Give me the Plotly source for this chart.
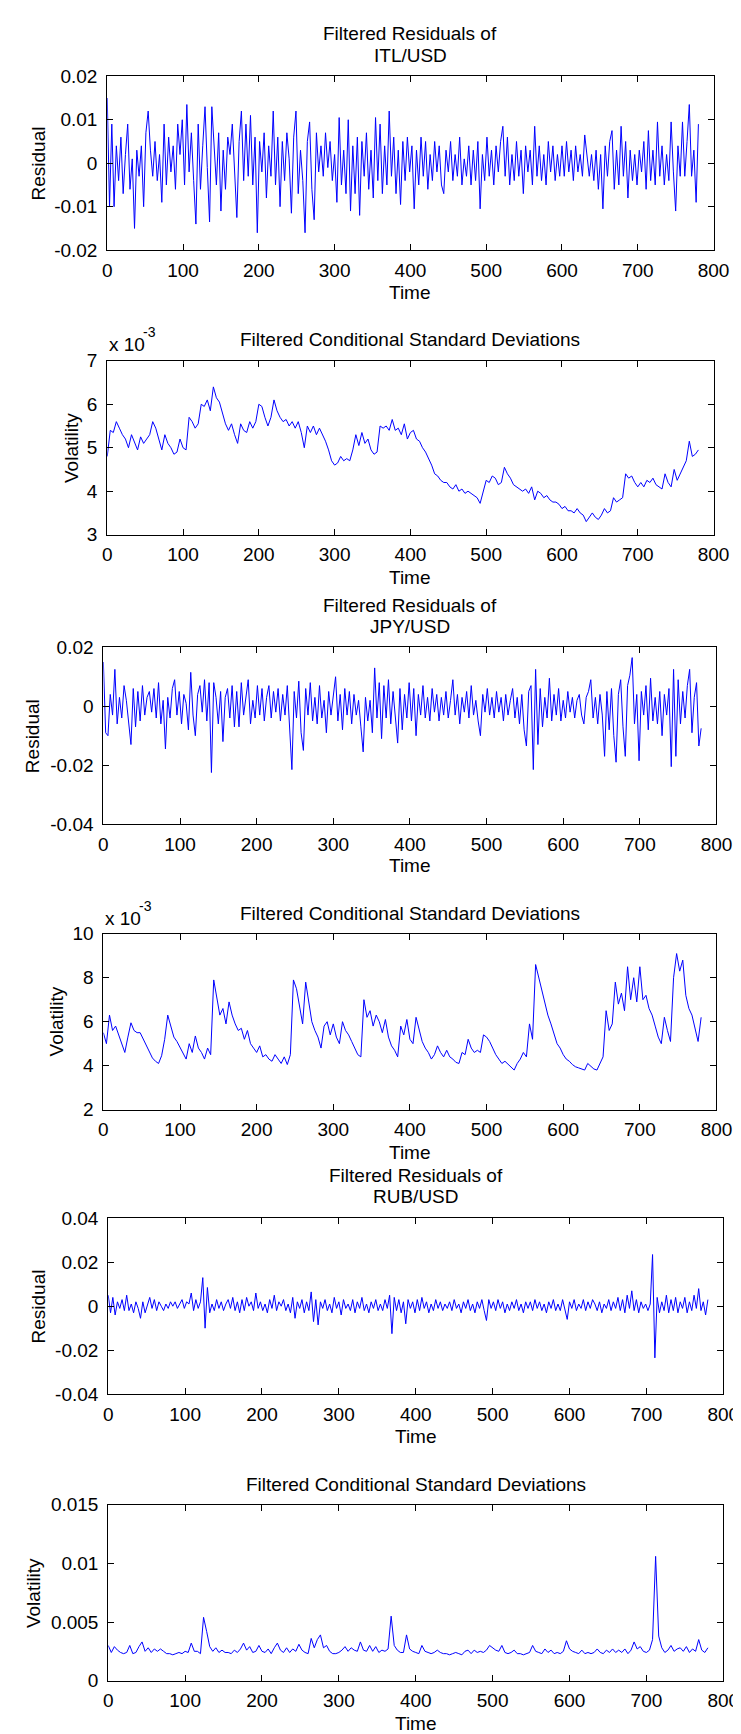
import plotly.graph_objects as go

W, H = 741, 1734

# ---------------- data ----------------
time_res = list(range(0, 781, 3))   # residual series sampled every 3 steps
time_vol = list(range(0, 781, 4))   # volatility series sampled every 4 steps

# ITL/USD filtered residuals (units of 1e-3)
itl_res = [15, -10, 9, -10, 4, -4, 6, -7, 2, 9, -6, 1, -15, 3, -3, 4, -10, 7, 12, 3,
           -3, 5, -4, 2, -9, 9, -5, 6, -2, 4, -6, 9, 2, 10, -5, 13.5, -2, 7, -4, -14,
           9, -6, 4, 13, -1, -13.5, 13, 3, -5, 7, -11, 3, -6, 6, 2, 9, -3, -12.5, 5, 12,
           -4, 9, -3, 11, -5, 6, -16, 5, -2, 7, -8, 4, -3, 12, -5, 6, -10, 5, -4, 7,
           1, -11.5, 6, 12, -7, 3, -4, -16, 5, 9.5, -6, -13, 7, -2, 4, -3, 7, -1, 5, -4,
           2, -9, 10.5, -5, 3, -7, 10, -11, 4, -7, 6, -12, 5, -3, 7, -6, 3, -8, 10.5, -4,
           9, -7, 4, -5, 12, -3, 6, -7, 3, -9.5, 5, -4, 6, -2, 4, -10.5, 3, -5, 6, -3,
           5, -6, 2, -4, 5, -2, 4, -5, -7, 3, -2, 5, -4, 2, -3, 6, -5, 1, -3, 4,
           -5, 3, -4, 5, -10.5, 2, -4, 6, -3, 3, -5, 4, -2, 5, 8.5, -3, 6, -5, 2, -4,
           5, -3, 3, -7, 4, -2, 3, -5, 8.5, -3, 4, -4, 2, -5, 5, -2, 4, -4, 2, -3,
           4, -3, 5, -2, 3, -4, 4, -2, 2, -3, 6.5, 2, -3, 2, -4, 3, -6, 2, -10.5, 4,
           -3, 5, 7.5, -6, 3, -5, 8.5, -3, 5, -8, 3, -4, 2, -5, 3, -2, 5, -6, 7.5, -4,
           3, -5, 9.5, -3, 4, -5, 2, -4, 9.5, -2, -11, 4, -3, 9.5, -3, 5, 13.5, -3, 3, -9,
           9]

# ITL/USD conditional standard deviations (units of 1e-3)
itl_vol = [4.8, 5.4, 5.35, 5.6, 5.45, 5.3, 5.2, 5.0, 5.3, 5.1, 4.95, 5.25, 5.1, 5.2, 5.3, 5.6,
           5.45, 5.2, 4.95, 5.3, 5.1, 5.0, 4.85, 4.9, 5.2, 5.0, 4.95, 5.7, 5.6, 5.45, 5.55, 6.0,
           5.95, 6.1, 5.85, 6.4, 6.15, 6.05, 5.8, 5.55, 5.4, 5.55, 5.3, 5.1, 5.55, 5.4, 5.35, 5.6,
           5.45, 5.6, 6.0, 5.95, 5.7, 5.5, 5.7, 6.1, 5.85, 5.7, 5.6, 5.65, 5.5, 5.6, 5.45, 5.6,
           5.35, 5.0, 5.5, 5.35, 5.5, 5.3, 5.45, 5.3, 5.15, 4.95, 4.7, 4.6, 4.65, 4.8, 4.7, 4.75,
           4.7, 4.95, 5.3, 5.05, 5.35, 5.1, 5.2, 4.95, 4.85, 4.9, 5.5, 5.45, 5.5, 5.4, 5.65, 5.4,
           5.45, 5.3, 5.55, 5.2, 5.35, 5.4, 5.2, 5.15, 5.0, 4.9, 4.75, 4.6, 4.4, 4.35, 4.25, 4.2,
           4.2, 4.1, 4.05, 4.15, 4.0, 4.05, 3.95, 4.0, 3.95, 3.9, 3.85, 3.72, 4.0, 4.25, 4.2, 4.35,
           4.3, 4.15, 4.2, 4.55, 4.4, 4.3, 4.15, 4.1, 4.05, 4.0, 4.05, 3.95, 4.1, 3.8, 4.0, 3.95,
           3.85, 3.9, 3.8, 3.75, 3.75, 3.7, 3.6, 3.65, 3.55, 3.55, 3.5, 3.6, 3.5, 3.45, 3.3, 3.4,
           3.5, 3.4, 3.35, 3.45, 3.6, 3.5, 3.55, 3.85, 3.75, 3.8, 3.85, 4.4, 4.3, 4.35, 4.2, 4.1,
           4.2, 4.1, 4.25, 4.2, 4.3, 4.15, 4.1, 4.05, 4.4, 4.2, 4.1, 4.5, 4.25, 4.4, 4.55, 4.7,
           5.15, 4.8, 4.85, 4.95]

# JPY/USD filtered residuals (units of 1e-3)
jpy_res = [15, -9, -10, 4, -3, 12.5, -6, 3, -4, 7, 2, -5, -13, 6, -7, 5, -5, 7, -3, 3,
           5, -2, 6, -4, 8, -6, 2, -14.5, 3, -4, 6, 9, -3, 5, -6, 4, 1, -8, 11.5, -3,
           -10, 4, 7, -2, 9, -5, 8, -22.5, 8, 3, -6, 5, -12, 3, 6, -4, 7, -7, 5, -7,
           8, -3, 4, 9, -6, 2, -4, 7, -3, 6, -5, 3, 7, -4, 5, -2, 6, -5, 4, -3,
           7, -6, -21.5, 5, -4, 8.5, -9, -15, 6, -3, 8, -5, 3, -6, 7, -4, 2, -9, 5, -3,
           3, 10, -5, 4, -8, 6, -3, 5, -6, 4, -3, 2, -7, -15.5, 3, -5, 2, -9, 13, -4,
           8, -11, 7, -4, 9, -6, 5, -3, -12.5, 6, -8, 4, -4, 8, -5, 6, -10, 4, -3, 7,
           -4, 3, -5, 6, -2, 4, -5, 3, -3, 5, -4, 2, 9, -3, 4, -6, 3, -2, 5, -4,
           7, -3, 2, -5, -10, 4, -2, 6, -3, 3, -4, 5, -2, 3, -5, 4, -3, 2, 6, -4,
           3, -6, 4, -8, -13.5, 5, 7, -21.5, 12.5, -13, 6, -7, 3, -4, 9.5, -5, 4, -3, 6, -5,
           2, -4, 5, -2, 3, -4, 2, 4, -3, -6, 3, 5, 9, -4, 3, -6, 4, -3, -17, 5,
           -8, 6, -10, -19, 4, 9, -7, -17, 7, 10.5, 16.5, -6, 4, -18.5, 5, -3, 7, -8, 9.5, -5,
           3, -6, 5, -10, 4, -3, 6, -20.5, 12.5, -17, 9, -6, 5, -4, 7, 12.5, -9, 3, 8, -13.5,
           -7.5]

# JPY/USD conditional standard deviations (units of 1e-3)
jpy_vol = [5.5, 5.0, 6.3, 5.6, 5.8, 5.4, 5.0, 4.6, 5.3, 5.95, 5.6, 5.5, 5.5, 5.2, 4.9, 4.6,
           4.35, 4.2, 4.1, 4.45, 5.2, 6.3, 5.8, 5.3, 5.1, 4.85, 4.6, 4.3, 5.0, 4.6, 5.35, 4.8,
           4.6, 4.3, 4.8, 4.5, 7.9, 7.0, 6.3, 6.6, 5.9, 6.9, 6.3, 5.9, 5.6, 5.7, 5.2, 5.6,
           5.0, 4.8, 4.6, 4.9, 4.4, 4.5, 4.3, 4.2, 4.5, 4.3, 4.1, 4.4, 4.05, 4.5, 7.9, 7.5,
           6.6, 5.9, 7.8, 6.8, 6.0, 5.6, 5.3, 4.8, 5.8, 6.0, 5.4, 5.9, 5.3, 5.0, 6.0, 5.6,
           5.4, 5.1, 4.8, 4.5, 4.4, 7.0, 6.2, 6.5, 5.8, 6.3, 6.0, 5.5, 6.1, 5.3, 4.9, 4.7,
           4.4, 5.8, 5.4, 6.1, 5.2, 5.0, 6.2, 5.6, 5.1, 4.8, 4.6, 4.3, 4.5, 4.9, 4.6, 4.4,
           4.7, 4.4, 4.3, 4.15, 4.1, 4.6, 4.5, 5.2, 4.8, 4.6, 4.7, 4.6, 5.4, 5.3, 5.1, 4.8,
           4.5, 4.3, 4.1, 4.2, 4.05, 3.9, 3.8, 4.1, 4.3, 4.6, 4.4, 5.9, 5.2, 8.6, 8.0, 7.4,
           6.8, 6.3, 5.9, 5.4, 5.0, 4.8, 4.5, 4.3, 4.2, 4.05, 3.95, 3.9, 3.85, 3.8, 4.1, 3.95,
           3.85, 3.8, 4.1, 4.4, 6.5, 5.6, 5.9, 7.8, 6.8, 7.3, 6.5, 8.5, 7.0, 8.0, 6.9, 8.5,
           7.0, 7.2, 6.6, 6.3, 5.8, 5.3, 5.0, 6.2, 5.6, 5.1, 8.0, 9.1, 8.3, 8.8, 7.2, 6.6,
           6.3, 5.7, 5.1, 6.2]

# RUB/USD filtered residuals (units of 1e-3)
rub_res = [5, -3, 4, -4, 2, -1, 3, -2, 5, -2, 1, -3, 2, -1, -5.5, 2, -3, 1, 4, -1,
           3, -2, 2, 0, -2, 1, -1, 2, 0, 2, -1, 1, 3, -1, 2, 1, 6, -2, 3, -1,
           2, 13, -10, 8.5, -3, 1, -2, 3, -1, 2, -2, 1, 3, -1, 4, -2, 2, -3, 3, -2,
           4, 0, 2, -2, 6, -1, 2, -2, 1, -3, 3, -1, 5, -2, 2, 0, 3, -2, 1, -3,
           4, -5.5, 2, -1, 3, -3, 2, -2, 6.5, -7, 3, -8.5, 2, -1, 3, -2, 1, -3, 4, -1,
           2, -4, 3, -1, 1, -2, 3, -3, 2, -1, 4, -2, 1, -3, 2, -1, 3, -2, 1, -2,
           3, -1, 5, -12.5, 4, -2, 3, -3, 2, -8, 3, -1, 2, -3, 3, -2, 4, -1, 2, -3,
           1, -2, 3, -1, 2, -2, 1, -1, 2, -2, 3, -1, 1, -3, 2, -1, 3, -2, 1, -3,
           2, -1, 3, -2, -6.5, 3, -1, 2, -2, 3, -1, 2, -3, 1, -2, 2, -1, 3, -2, 1,
           -3, 2, -1, 2, -2, 3, -1, 2, -2, 1, -3, 2, -1, 3, -2, 1, -2, 3, -1, -6,
           2, -1, 3, -2, 1, -1, 3, -2, 2, -1, 3, 1, -2, 2, -3, 1, -1, 3, -2, 2,
           -1, 4, -2, 3, -3, 5, -1, 7, -2, 3, -3, 2, -1, 1, -2, 1, 23.5, -23.5, 4, -3,
           2, -2, 5, -3, 3, -2, 4, -3, 2, -1, 4, -3, 2, -2, 5, -1, 8, -2, 2, -4,
           3]

# RUB/USD conditional standard deviations (units of 1e-3)
rub_vol = [3.0, 2.4, 2.9, 2.6, 2.4, 2.3, 2.4, 3.0, 2.3, 2.4, 2.9, 3.3, 2.5, 2.8, 2.4, 2.7,
           2.5, 2.7, 2.5, 2.3, 2.3, 2.2, 2.3, 2.4, 2.3, 2.5, 2.4, 3.2, 2.5, 2.5, 2.3, 5.4,
           4.2, 2.9, 2.5, 2.8, 2.4, 2.6, 2.4, 2.4, 2.3, 2.6, 2.4, 2.7, 3.2, 2.6, 2.9, 2.4,
           2.5, 3.0, 2.5, 2.4, 2.7, 2.3, 2.8, 3.2, 2.6, 2.4, 2.8, 2.4, 2.7, 2.5, 3.1, 2.6,
           2.4, 2.3, 3.6, 2.8, 3.5, 3.9, 2.8, 3.0, 2.5, 2.3, 2.3, 2.4, 2.6, 2.9, 2.5, 2.8,
           2.6, 2.5, 3.3, 2.6, 2.5, 3.0, 2.5, 2.9, 2.4, 2.6, 2.5, 2.7, 5.5, 3.0, 2.6, 2.4,
           2.4, 3.9, 2.7, 2.5, 2.4, 2.3, 3.0, 2.5, 2.4, 2.3, 2.4, 2.6, 2.4, 2.3, 2.3, 2.2,
           2.3, 2.4, 2.3, 2.2, 2.5, 2.6, 2.3, 2.6, 2.4, 2.5, 2.4, 2.6, 3.0, 2.8, 2.6, 2.5,
           3.0, 2.4, 2.3, 2.4, 2.6, 2.3, 2.3, 2.2, 2.3, 2.4, 3.0, 2.5, 2.4, 2.3, 2.7, 2.4,
           2.6, 2.3, 2.4, 2.3, 2.5, 3.4, 2.7, 2.5, 2.4, 2.3, 2.6, 2.3, 2.4, 2.3, 2.4, 2.7,
           2.4, 2.3, 2.6, 2.4, 2.7, 2.4, 2.6, 2.4, 2.7, 2.3, 2.6, 3.3, 2.7, 2.9, 2.5, 2.4,
           2.6, 3.5, 10.6, 3.8, 2.8, 2.4, 2.6, 3.0, 2.5, 2.7, 2.8, 2.5, 2.9, 2.4, 2.7, 2.5,
           3.5, 2.6, 2.4, 2.8]

# ---------------- tick labels ----------------
x_tickvals = [0, 100, 200, 300, 400, 500, 600, 700, 800]
x_ticktext = ["0", "100", "200", "300", "400", "500", "600", "700", "800"]

itl_res_tickvals = [-20, -10, 0, 10, 20]
itl_res_ticktext = ["-0.02", "-0.01", "0", "0.01", "0.02"]
itl_vol_tickvals = [3, 4, 5, 6, 7]
itl_vol_ticktext = ["3", "4", "5", "6", "7"]
jpy_res_tickvals = [-40, -20, 0, 20]
jpy_res_ticktext = ["-0.04", "-0.02", "0", "0.02"]
jpy_vol_tickvals = [2, 4, 6, 8, 10]
jpy_vol_ticktext = ["2", "4", "6", "8", "10"]
rub_res_tickvals = [-40, -20, 0, 20, 40]
rub_res_ticktext = ["-0.04", "-0.02", "0", "0.02", "0.04"]
rub_vol_tickvals = [0, 5, 10, 15]
rub_vol_ticktext = ["0", "0.005", "0.01", "0.015"]

# ---------------- layout (pixel boxes: left, right, top, bottom) ----------------
FONT = "Liberation Sans, Arial, sans-serif"
FS = 19
panels = [
    dict(x=time_res, y=itl_res, box=(97, 721, 59, 235), yr=[-20, 20],
         tv=itl_res_tickvals, tt=itl_res_ticktext,
         title=["Filtered Residuals of", "ITL/USD"], ty=[16, 38], ylab="Residual", ylx=26,
         timey=278, expo=None),
    dict(x=time_vol, y=itl_vol, box=(97, 721, 347, 523), yr=[3, 7],
         tv=itl_vol_tickvals, tt=itl_vol_ticktext,
         title=["Filtered Conditional Standard Deviations"], ty=[325], ylab="Volatility", ylx=60,
         timey=566, expo=(97, 331, 140, 318)),
    dict(x=time_res, y=jpy_res, box=(93, 724, 637, 816), yr=[-40, 20],
         tv=jpy_res_tickvals, tt=jpy_res_ticktext,
         title=["Filtered Residuals of", "JPY/USD"], ty=[595, 616], ylab="Residual", ylx=20,
         timey=858, expo=None),
    dict(x=time_vol, y=jpy_vol, box=(93, 724, 927, 1105), yr=[2, 10],
         tv=jpy_vol_tickvals, tt=jpy_vol_ticktext,
         title=["Filtered Conditional Standard Deviations"], ty=[906], ylab="Volatility", ylx=45,
         timey=1148, expo=(93, 912, 136, 899)),
    dict(x=time_res, y=rub_res, box=(98, 731, 1215, 1393), yr=[-40, 40],
         tv=rub_res_tickvals, tt=rub_res_ticktext,
         title=["Filtered Residuals of", "RUB/USD"], ty=[1172, 1193], ylab="Residual", ylx=26,
         timey=1436, expo=None),
    dict(x=time_vol, y=rub_vol, box=(98, 731, 1505, 1683), yr=[0, 15],
         tv=rub_vol_tickvals, tt=rub_vol_ticktext,
         title=["Filtered Conditional Standard Deviations"], ty=[1484], ylab="Volatility", ylx=21,
         timey=1726, expo=None),
]

fig = go.Figure()
annotations = []


def px(xp):
    return xp / W


def py(yp):
    return 1 - yp / H


def text_ann(txt, xp, yp, size=FS, angle=0, xanchor="center"):
    return dict(text=txt, x=px(xp), y=py(yp), xref="paper", yref="paper",
                showarrow=False, xanchor=xanchor, yanchor="middle", textangle=angle,
                font=dict(family=FONT, size=size, color="black"))


layout_axes = {}
for i, p in enumerate(panels, start=1):
    l, r, t, b = p["box"]
    sfx = "" if i == 1 else str(i)
    fig.add_trace(go.Scatter(x=p["x"], y=p["y"], mode="lines",
                             line=dict(color="#0000FF", width=1),
                             xaxis="x" + sfx, yaxis="y" + sfx, showlegend=False,
                             hoverinfo="skip"))
    common = dict(showline=True, linecolor="black", linewidth=1, mirror="ticks",
                  ticks="inside", ticklen=6, tickwidth=1, tickcolor="black",
                  showgrid=False, zeroline=False, ticklabeloverflow="allow",
                  tickfont=dict(family=FONT, size=FS, color="black"))
    layout_axes["xaxis" + sfx] = dict(common, domain=[px(l), px(r)], range=[0, 800],
                                      tickmode="array", tickvals=x_tickvals, ticktext=x_ticktext,
                                      anchor="y" + sfx, ticklabelstandoff=3)
    layout_axes["yaxis" + sfx] = dict(common, domain=[py(b), py(t)], range=p["yr"],
                                      tickmode="array", tickvals=p["tv"], ticktext=p["tt"],
                                      anchor="x" + sfx, ticklabelstandoff=5)
    cx = (l + r) / 2
    for txt, yy in zip(p["title"], p["ty"]):
        annotations.append(text_ann(txt, cx, yy))
    annotations.append(text_ann("Time", cx, p["timey"]))
    annotations.append(text_ann(p["ylab"], p["ylx"], (t + b) / 2, angle=-90))
    if p["expo"]:
        ex, ey, sx, sy = p["expo"]
        annotations.append(text_ann("x 10", ex, ey, xanchor="left"))
        annotations.append(text_ann("-3", sx, sy, size=14, xanchor="center"))

fig.update_layout(width=W, height=H, margin=dict(l=0, r=0, t=0, b=0),
                  paper_bgcolor="white", plot_bgcolor="white",
                  annotations=annotations, **layout_axes)

fig.write_html("out.html")
